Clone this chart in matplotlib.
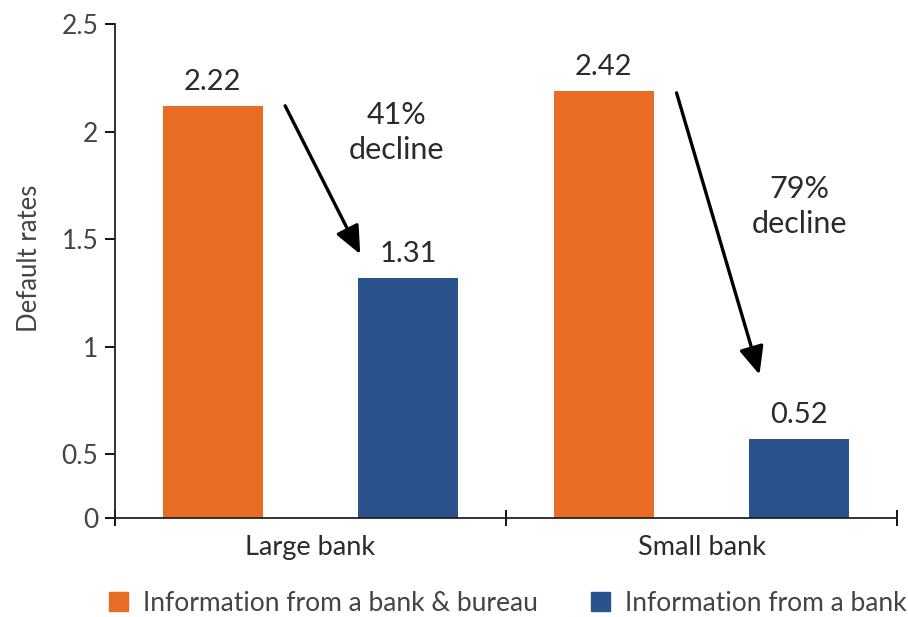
import numpy as np
import matplotlib
matplotlib.use("Agg")
import matplotlib.pyplot as plt
from matplotlib.patches import Patch

plt.rcParams['font.family'] = ['Lato', 'DejaVu Sans']

# Data
groups = ["Large bank", "Small bank"]
series_names = ["Information from a bank & bureau", "Information from a bank"]
# printed value labels
label_bureau = [2.22, 2.42]
label_bank = [1.31, 0.52]
# bar heights as drawn against the axis (the original's bars don't match its labels)
height_bureau = [2.12, 2.19]
height_bank = [1.32, 0.57]
declines = ["41%\ndecline", "79%\ndecline"]
yticks = [0, 0.5, 1, 1.5, 2, 2.5]

orange = "#E86C24"
blue = "#2A538D"
text_dark = "#2b2b2b"
text_gray = "#444444"


# the original y axis squeezes 0-0.5 into a shorter span than the other steps
def fwd(v):
    v = np.asarray(v, dtype=float)
    return np.where(v < 0.5, v * 128.0, 64.0 + (v - 0.5) * 216.0)


def inv(p):
    p = np.asarray(p, dtype=float)
    return np.where(p < 64.0, p / 128.0, 0.5 + (p - 64.0) / 216.0)


fig = plt.figure(figsize=(9.08, 6.17), dpi=100)
ax = fig.add_axes([0.1267, 0.1605, 0.8613, 0.8005])
ax.set_yscale('function', functions=(fwd, inv))

x = np.arange(len(groups))
w = 0.256
off = 0.25
b1 = ax.bar(x - off, height_bureau, width=w, color=orange)
b2 = ax.bar(x + off, height_bank, width=w, color=blue)

for rect, val in zip(b1, label_bureau):
    ax.annotate(f"{val:.2f}", (rect.get_x() + rect.get_width() / 2, rect.get_height()),
                xytext=(0, 8), textcoords="offset points", ha="center", va="bottom",
                fontsize=21, color=text_dark)
for rect, val in zip(b2, label_bank):
    ax.annotate(f"{val:.2f}", (rect.get_x() + rect.get_width() / 2, rect.get_height()),
                xytext=(0, 8), textcoords="offset points", ha="center", va="bottom",
                fontsize=21, color=text_dark)

# decline arrows
arrows = [((-0.065, 2.12), (0.127, 1.43)), ((0.936, 2.18), (1.148, 0.87))]
for (start, end) in arrows:
    ax.annotate("", xy=end, xytext=start,
                arrowprops=dict(arrowstyle="-|>,head_length=1.7,head_width=0.75",
                                color="black", lw=2.4, shrinkA=0, shrinkB=0))

ax.text(0.221, 1.995, declines[0], ha="center", va="center", fontsize=22,
        color=text_dark, linespacing=1.3)
ax.text(1.25, 1.653, declines[1], ha="center", va="center", fontsize=22,
        color=text_dark, linespacing=1.3)

ax.set_xlim(-0.5, 1.5)
ax.set_ylim(0, 2.5)
ax.set_yticks(yticks)
ax.set_yticklabels([f"{t:g}" for t in yticks])
ax.tick_params(axis='y', direction='out', length=7, width=1.3, labelsize=19,
               labelcolor=text_gray, pad=5)

ax.set_xticks([-0.5, 0.5, 1.5])
ax.set_xticklabels([])
ax.tick_params(axis='x', which='major', direction='inout', length=12, width=1.3)
ax.set_xticks(x, minor=True)
ax.set_xticklabels(groups, minor=True)
ax.tick_params(axis='x', which='minor', length=0, labelsize=19.5, labelcolor=text_dark, pad=12)

for s in ['top', 'right']:
    ax.spines[s].set_visible(False)
for s in ['left', 'bottom']:
    ax.spines[s].set_linewidth(1.3)
    ax.spines[s].set_color("#222222")

ax.set_ylabel("Default rates", fontsize=18.5, color=text_gray)
ax.yaxis.set_label_coords(-0.093, 0.526)

handles = [Patch(color=orange), Patch(color=blue)]
fig.legend(handles, series_names, loc="center", bbox_to_anchor=(0.559, 0.022), ncol=2,
           frameon=False, fontsize=19, handlelength=0.75, handleheight=0.75,
           handletextpad=0.55, columnspacing=2.0, labelcolor=text_gray)

fig.savefig("out.png", dpi=100)
